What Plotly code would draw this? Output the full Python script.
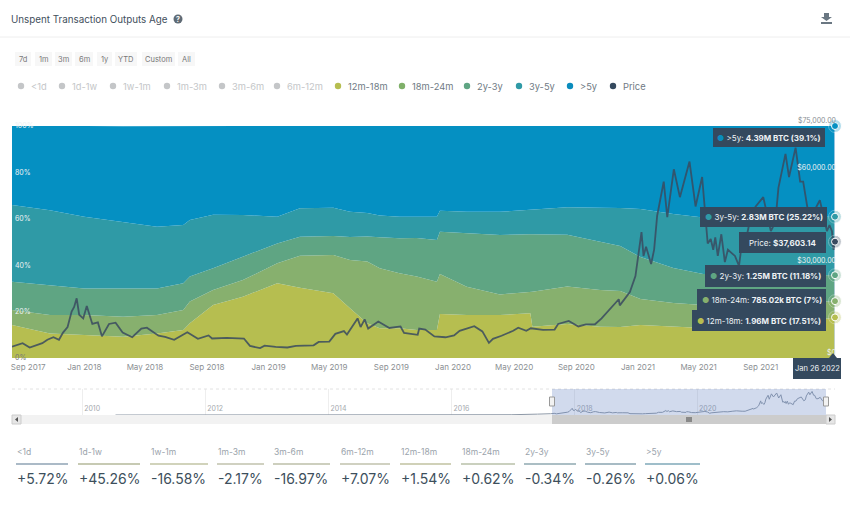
import plotly.graph_objects as go

W, H = 850, 506
FONT = "Inter"

# stacked share of supply (%)
band_dates = ["2017-08-11", "2017-10-25", "2018-01-01", "2018-03-19", "2018-05-25", "2018-07-16", "2018-07-29",
              "2018-09-13", "2018-11-11", "2019-01-18", "2019-03-04", "2019-05-09", "2019-06-11", "2019-07-15",
              "2019-08-09", "2019-09-17", "2019-10-21", "2019-11-30", "2019-12-06", "2020-01-28", "2020-04-03",
              "2020-06-02", "2020-06-06", "2020-08-14", "2020-10-18", "2020-11-27", "2021-01-06", "2021-03-12",
              "2021-05-10", "2021-09-20", "2022-01-26"]
m12_18 = [14.2, 10.6, 9.9, 9.2, 10.6, 12.1, 15.0, 22.8, 26.4, 32.2, 30.3, 27.9, 21.4, 15.0, 12.8, 12.8, 12.1, 12.1,
          19.0, 18.5, 18.5, 19.3, 13.5, 14.7, 13.5, 13.4, 14.2, 13.4, 12.9, 13.8, 17.51]
m18_24 = [6.5, 7.9, 8.6, 8.6, 7.9, 8.6, 9.3, 6.5, 7.2, 8.6, 13.8, 16.5, 20.8, 26.6, 25.9, 23.7, 23.0, 20.8,
          17.2, 12.2, 8.9, 9.3, 15.1, 16.1, 15.8, 15.5, 11.2, 10.3, 9.9, 9.5, 7.0]
y2_3 = [12.2, 12.9, 11.5, 12.2, 11.5, 11.5, 10.8, 9.4, 10.0, 8.6, 8.2, 8.2, 10.0, 10.8, 13.4, 15.1, 16.6, 18.0,
        18.2, 23.0, 25.6, 24.7, 24.7, 22.3, 20.8, 19.4, 18.1, 15.1, 13.4, 12.5, 11.18]
y3_5 = [33.1, 32.3, 30.9, 28.7, 26.6, 25.1, 24.4, 23.0, 18.0, 11.5, 12.2, 12.2, 10.8, 10.1, 9.3, 9.3, 9.1, 10.0,
        9.1, 9.3, 10.0, 10.5, 10.5, 11.9, 14.7, 16.4, 20.7, 23.3, 24.4, 25.0, 25.22]
y5_plus = [34.1, 36.2, 39.1, 41.2, 43.4, 42.7, 40.5, 38.4, 38.4, 39.1, 35.5, 35.2, 36.9, 37.6, 38.7, 39.1, 39.4, 39.1,
           36.5, 36.9, 36.9, 36.2, 36.2, 35.0, 35.2, 35.3, 35.8, 37.9, 39.4, 39.2, 39.1]

price_dates = ["2017-08-11", "2017-08-25", "2017-09-01", "2017-09-15", "2017-09-25", "2017-10-10", "2017-10-20",
               "2017-11-01", "2017-11-12", "2017-11-20", "2017-11-29", "2017-12-07", "2017-12-12", "2017-12-17",
               "2017-12-22", "2017-12-30", "2018-01-06", "2018-01-12", "2018-01-17", "2018-01-28", "2018-02-05",
               "2018-02-19", "2018-03-04", "2018-03-18", "2018-04-06", "2018-04-24", "2018-05-05", "2018-05-28",
               "2018-06-10", "2018-06-28", "2018-07-24", "2018-08-14", "2018-09-04", "2018-09-11", "2018-10-10",
               "2018-11-13", "2018-11-25", "2018-12-15", "2018-12-24", "2019-01-15", "2019-02-07", "2019-02-24",
               "2019-03-31", "2019-04-10", "2019-05-01", "2019-05-13", "2019-05-30", "2019-06-05", "2019-06-26",
               "2019-07-02", "2019-07-10", "2019-07-17", "2019-08-06", "2019-08-28", "2019-09-19", "2019-09-26",
               "2019-10-23", "2019-10-26", "2019-11-07", "2019-11-25", "2019-12-17", "2020-01-03", "2020-01-14",
               "2020-02-12", "2020-02-28", "2020-03-12", "2020-03-20", "2020-04-06", "2020-04-29", "2020-05-09",
               "2020-05-25", "2020-06-03", "2020-06-27", "2020-07-20", "2020-07-27", "2020-08-17", "2020-09-05",
               "2020-09-20", "2020-10-08", "2020-10-21", "2020-11-05", "2020-11-24", "2020-11-26", "2020-12-16",
               "2020-12-27", "2021-01-08", "2021-01-12", "2021-01-17", "2021-01-27", "2021-02-02", "2021-02-08",
               "2021-02-21", "2021-02-28", "2021-03-13", "2021-03-25", "2021-04-13", "2021-04-25", "2021-05-08",
               "2021-05-19", "2021-05-25", "2021-05-30", "2021-06-03", "2021-06-08", "2021-06-15", "2021-06-22",
               "2021-06-28", "2021-07-05", "2021-07-12", "2021-07-20", "2021-07-28", "2021-08-05", "2021-08-14",
               "2021-08-22", "2021-09-06", "2021-09-21", "2021-09-30", "2021-10-06", "2021-10-20", "2021-10-27",
               "2021-11-09", "2021-11-18", "2021-11-24", "2021-12-04", "2021-12-14", "2021-12-27", "2022-01-02",
               "2022-01-10", "2022-01-15", "2022-01-20", "2022-01-23", "2022-01-26"]
price = [3650, 4350, 4800, 3400, 3900, 4800, 5900, 6700, 5900, 8200, 10000, 15000, 16500, 19300, 14000, 12800, 16800,
         13500, 11000, 11500, 7000, 11000, 11400, 8200, 6700, 9500, 9800, 7200, 6800, 5900, 8300, 6200, 7300, 6300,
         6500, 6300, 3900, 3200, 4000, 3600, 3400, 3900, 4100, 5200, 5300, 7800, 8700, 7600, 12800, 10000, 12500,
         9500, 11800, 9700, 10200, 8100, 7500, 9500, 9200, 7000, 6700, 7300, 8800, 10300, 8600, 4900, 6200, 7200,
         8800, 9800, 8800, 9600, 9100, 9200, 11000, 12000, 10200, 10900, 10900, 12800, 15600, 19000, 17000, 21300,
         26500, 40700, 33000, 36000, 30400, 35000, 46000, 57000, 45500, 61000, 52000, 63500, 49000, 58500, 37000,
         38500, 35000, 39000, 33000, 40000, 31000, 35000, 34000, 33000, 29800, 40000, 40000, 47000, 49000, 52000,
         41000, 44000, 55000, 66000, 58500, 68000, 57000, 57000, 47000, 47000, 51000, 47000, 41000, 43000, 41000,
         35000, 37603]

early_dates = ["2010-07-18", "2011-06-08", "2012-06-01", "2013-04-09", "2013-12-04", "2015-01-15", "2016-01-01",
               "2016-12-20", "2017-05-25", "2017-07-16"]
early_price = [0.1, 30, 6, 230, 1150, 200, 430, 800, 2500, 2000]

x_tick_dates = ["2017-09-12", "2018-01-01", "2018-05-01", "2018-09-01", "2019-01-01", "2019-05-01", "2019-09-01",
                "2020-01-01", "2020-05-01", "2020-09-01", "2021-01-01", "2021-05-01", "2021-09-01"]
x_tick_labels = ["Sep 2017", "Jan 2018", "May 2018", "Sep 2018", "Jan 2019", "May 2019", "Sep 2019",
                 "Jan 2020", "May 2020", "Sep 2020", "Jan 2021", "May 2021", "Sep 2021"]
nav_tick_dates = ["2010-01-01", "2012-01-01", "2014-01-01", "2016-01-01", "2018-01-01", "2020-01-01"]
nav_tick_labels = ["2010", "2012", "2014", "2016", "2018", "2020"]
pct_ticks = [0, 20, 40, 60, 80, 100]
pct_labels = ['<span style="color:#777">0%</span>', "20%", "40%", "60%", "80%", "100%"]
price_ticks = [0, 30000, 60000, 75000]
price_labels = ["$0", "$30,000.00", "$60,000.00", '<span style="color:#8a8f94">$75,000.00</span>']

band_names = ["12m-18m", "18m-24m", "2y-3y", "3y-5y", ">5y"]
band_values = [m12_18, m18_24, y2_3, y3_5, y5_plus]
band_colors = ["#b6be50", "#87b06e", "#5fa583", "#2f9aa6", "#0590c2"]
PRICE_COLOR = "#3a4b60"
TIP = "#34495e"

range_buttons = ["7d", "1m", "3m", "6m", "1y", "YTD", "Custom", "All"]
button_edges = [(15, 31), (35, 52), (55, 72), (75, 93), (97, 112), (115, 137), (142, 175), (178, 195)]

legend_names = ["&lt;1d", "1d-1w", "1w-1m", "1m-3m", "3m-6m", "6m-12m", "12m-18m", "18m-24m", "2y-3y", "3y-5y", "&gt;5y", "Price"]
legend_dots = [21, 62, 113, 167, 222, 277, 338, 402, 467, 519, 570, 613]
legend_colors = ["#c4c6c8"] * 6 + ["#b6be50", "#7fb069", "#5fa583", "#2f9aa6", "#0a8cbd", "#34495e"]

stat_names = ["&lt;1d", "1d-1w", "1w-1m", "1m-3m", "3m-6m", "6m-12m", "12m-18m", "18m-24m", "2y-3y", "3y-5y", "&gt;5y"]
stat_values = ["+5.72%", "+45.26%", "-16.58%", "-2.17%", "-16.97%", "+7.07%", "+1.54%", "+0.62%", "-0.34%", "-0.26%", "+0.06%"]
stat_edges = [(16, 68), (78, 140), (150, 208), (217, 264), (273, 330), (340, 390), (400, 451), (461, 515), (524, 576), (585, 636), (645, 700)]
stat_line_colors = ["#8fa3b5", "#b4b89a", "#c2c4a4", "#c0c2ac", "#bcbfa8", "#c0c2ac", "#c0c2a0", "#b8c0a8", "#8fa8b0", "#8aa4b0", "#7fa8b8"]


def px(x):
    return x / W


def py(y):
    return 1 - y / H


shapes = []
annotations = []


def rect(x0, y0, x1, y1, fill, line=None):
    shapes.append(dict(type="rect", xref="paper", yref="paper", x0=px(x0), x1=px(x1), y0=py(y0), y1=py(y1),
                       fillcolor=fill, line=dict(color=line or fill, width=1 if line else 0)))


def hline(x0, x1, y, color, width=1, dash="solid"):
    shapes.append(dict(type="line", xref="paper", yref="paper", x0=px(x0), x1=px(x1), y0=py(y), y1=py(y),
                       line=dict(color=color, width=width, dash=dash)))


def dot(x, y, r, color):
    shapes.append(dict(type="circle", xref="paper", yref="paper", x0=px(x - r), x1=px(x + r), y0=py(y - r), y1=py(y + r),
                       fillcolor=color, line=dict(width=0)))


def poly(points, color):
    d = "M " + " L ".join(f"{px(a):.5f},{py(b):.5f}" for a, b in points) + " Z"
    shapes.append(dict(type="path", xref="paper", yref="paper", path=d, fillcolor=color, line=dict(width=0)))


def text(x, y, s, size=9, color="#888888", anchor="left"):
    annotations.append(dict(xref="paper", yref="paper", x=px(x), y=py(y), text=s, showarrow=False, xanchor=anchor,
                            yanchor="middle", borderpad=0, font=dict(family=FONT, size=size, color=color)))


# card chrome
hline(0, 850, 37, "#eeeeee")
text(10, 19, "Unspent Transaction Outputs Age", 9.8, "#3f4f5c")
dot(178, 19, 4.5, "#5f6b75")
text(178, 19, "<b>?</b>", 7, "#ffffff", "center")
poly([(824, 13), (829, 13), (829, 17), (832, 17), (826.5, 21), (821, 17), (824, 17)], "#6a7782")
rect(821, 22, 832, 24, "#6a7782")

for name, (a, b) in zip(range_buttons, button_edges):
    rect(a, 52, b, 66, "#f7f7f7")
    text((a + b) / 2, 59, name, 7.5, "#777777", "center")

for i, (name, x, color) in enumerate(zip(legend_names, legend_dots, legend_colors)):
    dot(x, 86, 3.2, color)
    text(x + 9, 86, name, 9.3, "#c4c6c8" if i < 6 else "#6f7a84")

# tooltips at the crosshair
tips = [(713, 128, 825, 147, "#0a8cbd", "&gt;5y: ", "4.39M BTC (39.1%)"),
        (700, 207, 827, 227, "#2f9aa6", "3y-5y: ", "2.83M BTC (25.22%)"),
        (739, 232, 826, 253, None, "Price: ", "$37,603.14"),
        (705, 265, 826, 287, "#5fa583", "2y-3y: ", "1.25M BTC (11.18%)"),
        (697, 289, 826, 311, "#87b06e", "18m-24m: ", "785.02k BTC (7%)"),
        (692, 310, 826, 331, "#b6be50", "12m-18m: ", "1.96M BTC (17.51%)")]
for x0, y0, x1, y1, color, key, val in tips:
    rect(x0, y0, x1, y1, TIP)
    mark = f'<span style="color:{color}">●</span> ' if color else ""
    text((x0 + x1) / 2, (y0 + y1) / 2, f"{mark}{key}<b>{val}</b>", 8, "#eef2f5", "center")
rect(793, 358, 841, 379, TIP)
poly([(829, 358), (833, 353), (837, 358)], TIP)
text(817, 368.5, "Jan 26 2022", 7.5, "#eef2f5", "center")

# navigator furniture
hline(12, 835, 389, "#e2e2e2", 1, "dot")
rect(12, 415, 835, 424, "#f2f2f2")
rect(552, 389, 826, 415, "rgba(102,133,194,0.30)")
rect(552, 415, 826, 424, "#cccccc")
rect(12, 415, 21, 424, "#e6e6e6", "#cccccc")
rect(826, 415, 835, 424, "#e6e6e6", "#cccccc")
poly([(18, 417), (18, 422), (15, 419.5)], "#555555")
poly([(829, 417), (829, 422), (832, 419.5)], "#555555")
for gx in (687, 689, 691):
    shapes.append(dict(type="line", xref="paper", yref="paper", x0=px(gx), x1=px(gx), y0=py(417), y1=py(422),
                       line=dict(color="#444444", width=1)))
for hx in (552, 826):
    rect(hx - 2.5, 397, hx + 2.5, 406, "#f2f2f2", "#999999")

# stats row
for name, value, (a, b), color in zip(stat_names, stat_values, stat_edges, stat_line_colors):
    text(a, 452, name, 8.5, "#9aa3ab")
    hline(a, b, 464, color, 1.5)
    text(a, 478.5, value, 14, "#3d4f5c")

fig = go.Figure()

for name, values, color in zip(band_names, band_values, band_colors):
    fig.add_trace(go.Scatter(x=band_dates, y=values, name=name, mode="lines", stackgroup="age",
                             line=dict(color=color, width=0), fillcolor=color, hoverinfo="skip"))

fig.add_trace(go.Scatter(x=price_dates, y=price, name="Price", mode="lines", yaxis="y2",
                         line=dict(color=PRICE_COLOR, width=1.8), opacity=0.85, hoverinfo="skip"))

# crosshair and end of series markers
end_date = band_dates[-1]
fig.add_trace(go.Scatter(x=[end_date, end_date], y=[pct_ticks[0], pct_ticks[-1]], mode="lines", cliponaxis=False,
                         line=dict(color="#c5d6ea", width=1.5), hoverinfo="skip"))
running = 0
for values, color in zip(band_values, band_colors):
    running += values[-1]
    top = min(running, 100)  # shares add up to 100.01 after rounding
    fig.add_trace(go.Scatter(x=[end_date, end_date], y=[top, top], mode="markers", cliponaxis=False,
                             marker=dict(size=[13, 7], color=color, opacity=[0.3, 1]), hoverinfo="skip"))
fig.add_trace(go.Scatter(x=[end_date, end_date], y=[price[-1], price[-1]], mode="markers", yaxis="y2", cliponaxis=False,
                         marker=dict(size=[13, 7], color=PRICE_COLOR, opacity=[0.3, 1]), hoverinfo="skip"))

fig.add_trace(go.Scatter(x=early_dates + price_dates, y=early_price + price, mode="lines", xaxis="x2", yaxis="y3",
                         line=dict(color="#8d98a6", width=1), hoverinfo="skip"))

fig.update_layout(
    width=W, height=H, margin=dict(l=0, r=0, t=0, b=0), showlegend=False,
    paper_bgcolor="white", plot_bgcolor="white",
    font=dict(family=FONT, size=8, color="#888888"),
    shapes=shapes, annotations=annotations,
    xaxis=dict(domain=[px(12), px(835)], range=["2017-08-11", "2022-01-26"], tickvals=x_tick_dates,
               ticktext=x_tick_labels, showgrid=False, zeroline=False, ticks="", ticklen=0, automargin=False,
               anchor="y", tickfont=dict(size=8, color="#8b8f93"), ticklabelstandoff=3),
    yaxis=dict(domain=[py(358), py(126)], range=[0, 100], tickvals=pct_ticks, ticktext=pct_labels, automargin=False,
               ticklabelposition="inside", ticklabeloverflow="allow", showgrid=False, zeroline=False,
               tickfont=dict(size=7, color="#eef2f4")),
    yaxis2=dict(domain=[py(358), py(126)], range=[0, 75000], overlaying="y", side="right", anchor="x", automargin=False,
                tickvals=price_ticks, ticktext=price_labels, ticklabelposition="inside", ticklabeloverflow="allow",
                ticklabelshift=-5, ticklabelstandoff=-4, showgrid=False, zeroline=False,
                tickfont=dict(size=7, color="#eef2f4")),
    xaxis2=dict(domain=[px(12), px(835)], range=["2008-11-11", "2022-03-25"], anchor="y3", tickvals=nav_tick_dates,
                ticktext=nav_tick_labels, ticklabelposition="inside", ticklabelshift=10, ticklabeloverflow="allow",
                automargin=False, showgrid=True, gridcolor="#eeeeee", gridwidth=1, zeroline=False,
                tickfont=dict(size=7, color="#a5a9ad")),
    yaxis3=dict(domain=[py(415), py(389)], range=[0, 75000], showticklabels=False, showgrid=False, zeroline=False,
                automargin=False),
)

fig.write_html("out.html", config=dict(displayModeBar=False), post_script="document.body.style.margin='0';")
